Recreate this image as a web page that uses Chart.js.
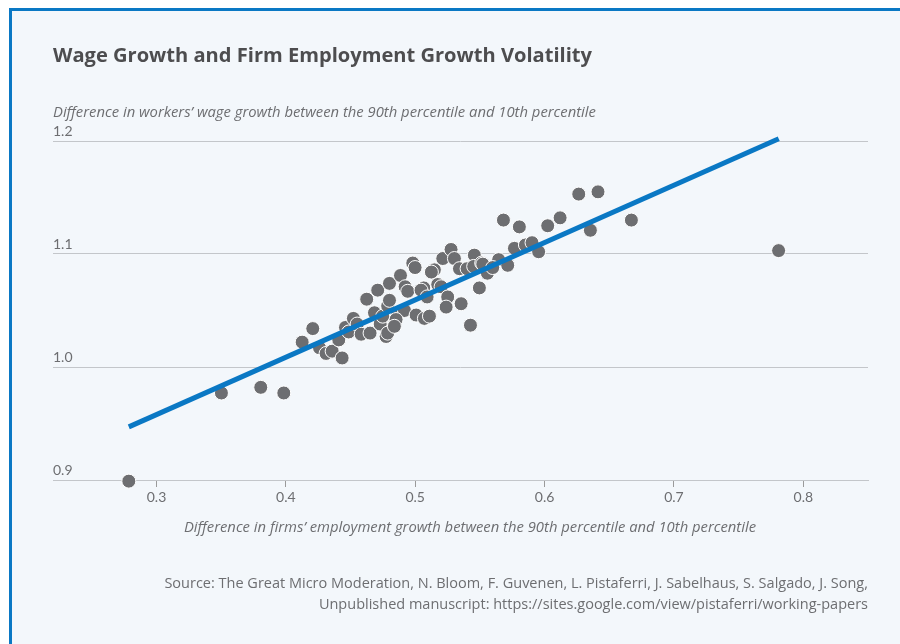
<!DOCTYPE html>
<html>
<head>
<meta charset="utf-8">
<script src="https://cdn.jsdelivr.net/npm/chart.js@4.4.1/dist/chart.umd.min.js"></script>
<style>
  html, body { margin: 0; padding: 0; background: #ffffff; }
  #frame {
    position: absolute; left: 9px; top: 8px; width: 891px; height: 636px;
    background: #f3f7fb; border-left: 3px solid #0a78c4; border-top: 3px solid #0a78c4;
  }
  #wrap { position: absolute; left: 0; top: 0; width: 900px; height: 644px; }
  canvas { position: absolute; left: 0; top: 0; }
  .txt { position: absolute; font-family: "Open Sans", Lato, sans-serif; white-space: nowrap; }
  #title { left: 53px; top: 41px; font-size: 20.1px; line-height: 28px; font-weight: bold; color: #4d4d4f; }
  #ytitle { left: 53px; top: 101px; font-size: 14.8px; line-height: 20px; font-style: italic; color: #6d6e71; }
  #xtitle { left: 470px; top: 516px; transform: translateX(-50%); font-size: 14.8px; line-height: 20px; font-style: italic; color: #6d6e71; }
  #source { right: 32px; top: 572px; font-size: 14.5px; color: #6d6e71; text-align: right; line-height: 21px; }
</style>
</head>
<body>
<div id="frame"></div>
<div id="wrap">
  <canvas id="c" width="900" height="644"></canvas>
  <div class="txt" id="title">Wage Growth and Firm Employment Growth Volatility</div>
  <div class="txt" id="ytitle">Difference in workers’ wage growth between the 90th percentile and 10th percentile</div>
  <div class="txt" id="xtitle">Difference in firms’ employment growth between the 90th percentile and 10th percentile</div>
  <div class="txt" id="source">Source: The Great Micro Moderation, N. Bloom, F. Guvenen, L. Pistaferri, J. Sabelhaus, S. Salgado, J. Song,<br>Unpublished manuscript: https://sites.google.com/view/pistaferri/working-papers</div>
</div>
<script>
// Firm employment growth dispersion (P90 - P10)
const firmGrowth = [
  0.2786, 0.3502, 0.3806, 0.3984, 0.4126, 0.4208, 0.4260, 0.4311, 0.4358, 0.4435,
  0.4409, 0.4461, 0.4486, 0.4522, 0.4551, 0.4582, 0.4625, 0.4651, 0.4710, 0.4685,
  0.4729, 0.4749, 0.4775, 0.4801, 0.4787, 0.4886, 0.4922, 0.4942, 0.4981, 0.4999,
  0.5066, 0.5045, 0.5092, 0.5148, 0.5125, 0.5174, 0.5200, 0.5213, 0.5277, 0.5303,
  0.5251, 0.5239, 0.5342, 0.5355, 0.5401, 0.5457, 0.5452, 0.5496, 0.5514, 0.5427,
  0.4801, 0.4865, 0.4917, 0.4852, 0.5007, 0.5071, 0.5110, 0.4787, 0.4839, 0.5682,
  0.5805, 0.6024, 0.6120, 0.6264, 0.6413, 0.6354, 0.6671, 0.7809, 0.5767, 0.5852,
  0.5903, 0.5954, 0.5645, 0.5715, 0.5558, 0.5522, 0.5599
];
// Workers' wage growth dispersion (P90 - P10)
const wageGrowth = [
  0.899, 0.977, 0.982, 0.977, 1.022, 1.034, 1.017, 1.012, 1.014, 1.008,
  1.024, 1.035, 1.031, 1.043, 1.038, 1.029, 1.060, 1.030, 1.068, 1.048,
  1.038, 1.045, 1.027, 1.074, 1.054, 1.081, 1.071, 1.067, 1.092, 1.088,
  1.070, 1.068, 1.062, 1.086, 1.084, 1.073, 1.071, 1.096, 1.104, 1.096,
  1.062, 1.053, 1.087, 1.056, 1.087, 1.099, 1.089, 1.070, 1.092, 1.037,
  1.059, 1.048, 1.050, 1.042, 1.046, 1.043, 1.045, 1.030, 1.036, 1.130,
  1.124, 1.125, 1.132, 1.153, 1.155, 1.121, 1.130, 1.103, 1.105, 1.108,
  1.110, 1.102, 1.095, 1.090, 1.083, 1.091, 1.088
];
// Fitted line endpoints
const fitX = [0.2786, 0.781];
const fitY = [0.947, 1.202];
// Axis ticks
const xTicks = [0.3, 0.4, 0.5, 0.6, 0.7, 0.8];
const yTicks = [0.9, 1.0, 1.1, 1.2];

const scatterData = firmGrowth.map((x, i) => ({ x: x, y: wageGrowth[i] }));
const fitData = fitX.map((x, i) => ({ x: x, y: fitY[i] }));

const tickFont = { family: 'Lato, "Open Sans", sans-serif', size: 14 };

new Chart(document.getElementById('c'), {
  type: 'scatter',
  data: {
    datasets: [
      {
        label: 'Fit',
        data: fitData,
        showLine: true,
        borderColor: '#0a78c4',
        borderWidth: 5,
        pointRadius: 0,
        fill: false,
        clip: false,
        order: 0
      },
      {
        label: 'Data',
        data: scatterData,
        backgroundColor: '#6d6e71',
        borderColor: '#ffffff',
        borderWidth: 1,
        pointRadius: 7,
        clip: false,
        order: 1
      }
    ]
  },
  options: {
    responsive: false,
    animation: false,
    devicePixelRatio: 1,
    layout: { padding: { left: 53, right: 32, top: 141, bottom: 0 } },
    plugins: { legend: { display: false }, tooltip: { enabled: false } },
    scales: {
      x: {
        type: 'linear',
        min: 0.22, max: 0.85,
        afterBuildTicks: (s) => { s.ticks = xTicks.map(v => ({ value: v })); },
        afterFit: (s) => { s.height = 164; },
        grid: { drawOnChartArea: false, drawTicks: true, tickLength: 7, color: '#9a9a9a', lineWidth: 1 },
        border: { display: true, color: '#c3c6ca', width: 1 },
        ticks: {
          font: tickFont, color: '#6d6e71', padding: 2,
          callback: (v) => Number(v).toFixed(1)
        },
        title: { display: false }
      },
      y: {
        type: 'linear',
        min: 0.9, max: 1.2,
        afterBuildTicks: (s) => { s.ticks = yTicks.map(v => ({ value: v })); },
        afterFit: (s) => { s.width = 0; },
        grid: { drawTicks: false, color: '#c3c6ca', lineWidth: 1 },
        border: { display: false },
        ticks: {
          mirror: true, padding: 0, labelOffset: -10,
          font: tickFont, color: '#6d6e71',
          callback: (v) => Number(v).toFixed(1)
        }
      }
    }
  }
});
</script>
</body>
</html>
